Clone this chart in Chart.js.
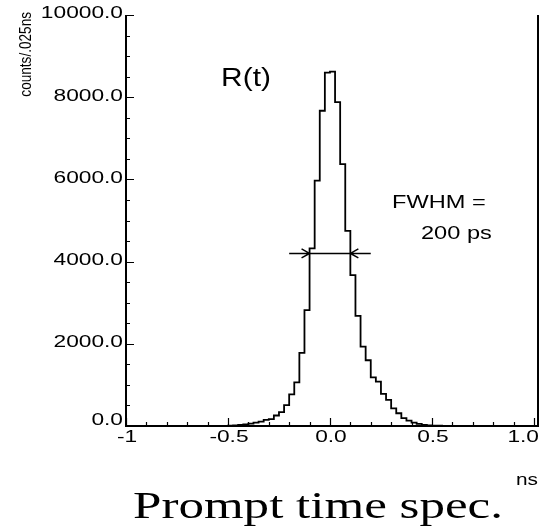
<!DOCTYPE html>
<html>
<head>
<meta charset="utf-8">
<script src="https://cdn.jsdelivr.net/npm/chart.js@4/dist/chart.umd.min.js"></script>
<style>
  body { margin: 0; background: #fff; }
  canvas { display: block; }
</style>
</head>
<body>
<canvas id="grafico" width="554" height="532"></canvas>
<script>
// histogram of prompt time, bins of 0.025 ns from -1 to 1
const binWidth = 0.025;
const counts = [
  0, 0, 0, 0, 0, 0, 0, 0, 0, 0,
  0, 0, 0, 0, 0, 0, 1, 2, 3, 5,
  10, 16, 25, 40, 57, 80, 105, 150, 165, 255,
  340, 510, 770, 1060, 1780, 2820, 4320, 5970, 7670, 8600,
  8620, 7880, 6370, 4750, 3670, 2680, 1930, 1600, 1185, 1080,
  780, 635, 430, 310, 190, 130, 80, 50, 28, 16,
  10, 6, 4, 2, 1, 0, 0, 0, 0, 0,
  0, 0, 0, 0, 0, 0, 0, 0, 0, 0
];
const binStart = counts.map((c, i) => -1 + i * binWidth);

const xMajorTicks = [-1, -0.5, 0, 0.5, 1.0];
const xTickLabels = ['-1', '-0.5', '0.0', '0.5', '1.0'];
const yMajorTicks = [0, 2000, 4000, 6000, 8000, 10000];
const yTickLabels = ['0.0', '2000.0', '4000.0', '6000.0', '8000.0', '10000.0'];

// FWHM arrow
const fwhmLevel = 4200;
const fwhmEdges = [-0.1, 0.1];
const fwhmSpan = [-0.2, 0.2];

// points at left edge of each bin + closing point
const pontos = binStart.map((x, i) => ({ x: x, y: counts[i] }));
pontos.push({ x: 1.0, y: counts[counts.length - 1] });

function texto(ctx, str, x, y, font, sx, align, baseline) {
    ctx.save();
    ctx.font = font;
    ctx.textAlign = align || 'left';
    ctx.textBaseline = baseline || 'alphabetic';
    ctx.translate(x, y);
    ctx.scale(sx, 1);
    ctx.fillText(str, 0, 0);
    ctx.restore();
}

const desenhoRoot = {
    id: 'desenhoRoot',
    afterDraw(chart) {
        const ctx = chart.ctx;
        const a = chart.chartArea;
        const xs = chart.scales.x;
        const ys = chart.scales.y;
        ctx.save();
        ctx.strokeStyle = '#000';
        ctx.fillStyle = '#000';

        // frame
        ctx.lineWidth = 2;
        ctx.beginPath();
        ctx.moveTo(a.left, a.top);
        ctx.lineTo(a.left, a.bottom);
        ctx.lineTo(a.right, a.bottom);
        ctx.lineTo(a.right, a.top);
        ctx.stroke();

        // ticks (inward)
        ctx.lineWidth = 1.2;
        ctx.beginPath();
        for (let v = -1; v <= 1.0001; v += 0.1) {
            const px = Math.round(xs.getPixelForValue(v)) + 0.5;
            const major = Math.abs(v * 2 - Math.round(v * 2)) < 1e-6;
            ctx.moveTo(px, a.bottom);
            ctx.lineTo(px, a.bottom - (major ? 8 : 4));
        }
        for (let v = 0; v <= 10000; v += 500) {
            const py = Math.round(ys.getPixelForValue(v)) + 0.5;
            const major = v % 2000 === 0;
            ctx.moveTo(a.left, py);
            ctx.lineTo(a.left + (major ? 8 : 4), py);
        }
        ctx.stroke();

        // tick labels
        const fTick = '16px "Liberation Sans", Arial, sans-serif';
        xMajorTicks.forEach((v, i) => {
            const px = xs.getPixelForValue(v);
            if (i === xMajorTicks.length - 1) {
                texto(ctx, xTickLabels[i], a.right + 1, a.bottom + 16, fTick, 1.42, 'right');
            } else {
                texto(ctx, xTickLabels[i], px + 1, a.bottom + 16, fTick, 1.42, 'center');
            }
        });
        yMajorTicks.forEach((v, i) => {
            const py = ys.getPixelForValue(v);
            const dy = v === 0 ? -5 : -1;
            texto(ctx, yTickLabels[i], a.left - 3, py + dy, fTick, 1.42, 'right', 'middle');
        });

        // axis titles
        texto(ctx, 'ns', a.right, a.bottom + 59, '16px "Liberation Sans", Arial, sans-serif', 1.3, 'right');
        ctx.save();
        ctx.translate(26, 12);
        ctx.scale(1.25, 1);
        ctx.rotate(-Math.PI / 2);
        ctx.font = '13.6px "Liberation Sans", Arial, sans-serif';
        ctx.textAlign = 'right';
        ctx.textBaseline = 'middle';
        ctx.fillText('counts/.025ns', 0, 0);
        ctx.restore();

        // labels inside the plot
        texto(ctx, 'R(t)', 246, 86, '26px "Liberation Sans", Arial, sans-serif', 1.15, 'center');
        texto(ctx, 'FWHM =', 392, 208, '18px "Liberation Sans", Arial, sans-serif', 1.31, 'left');
        texto(ctx, '200 ps', 421, 239, '18px "Liberation Sans", Arial, sans-serif', 1.31, 'left');

        // FWHM arrow
        const yA = ys.getPixelForValue(fwhmLevel);
        const xL = xs.getPixelForValue(fwhmEdges[0]);
        const xR = xs.getPixelForValue(fwhmEdges[1]);
        ctx.lineWidth = 1.5;
        ctx.beginPath();
        ctx.moveTo(xs.getPixelForValue(fwhmSpan[0]), yA);
        ctx.lineTo(xs.getPixelForValue(fwhmSpan[1]), yA);
        ctx.moveTo(xL - 8, yA - 4.5); ctx.lineTo(xL, yA); ctx.lineTo(xL - 8, yA + 4.5);
        ctx.moveTo(xR + 8, yA - 4.5); ctx.lineTo(xR, yA); ctx.lineTo(xR + 8, yA + 4.5);
        ctx.stroke();

        // caption
        ctx.font = '38px "Liberation Serif", "Times New Roman", serif';
        const cap = 'Prompt time spec.';
        const w = ctx.measureText(cap).width;
        texto(ctx, cap, 133, 518, ctx.font, 370 / w, 'left');

        ctx.restore();
    }
};

new Chart(document.getElementById('grafico'), {
    type: 'line',
    data: {
        datasets: [{
            label: 'R(t)',
            data: pontos,
            stepped: 'before',
            borderColor: '#000',
            borderWidth: 1.8,
            pointRadius: 0,
            fill: false
        }]
    },
    options: {
        responsive: false,
        animation: false,
        layout: { padding: { left: 126, right: 16, top: 15, bottom: 106 } },
        plugins: { legend: { display: false }, tooltip: { enabled: false } },
        scales: {
            x: { type: 'linear', min: -1, max: 1.02, display: false },
            y: { min: 0, max: 10000, display: false }
        }
    },
    plugins: [desenhoRoot]
});
</script>
</body>
</html>
